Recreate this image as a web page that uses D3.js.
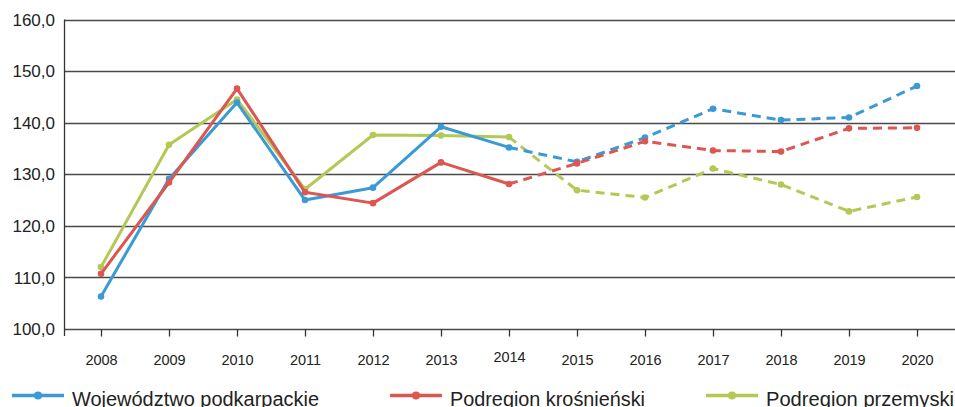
<!DOCTYPE html>
<html>
<head>
<meta charset="utf-8">
<script src="https://cdn.jsdelivr.net/npm/d3@7"></script>
<style>
  html, body { margin: 0; padding: 0; background: #fff; overflow: hidden; }
  svg { display: block; font-family: "Liberation Sans", Arial, sans-serif; }
</style>
</head>
<body>
<div class="plot"></div>
<script>
"use strict";

// values
const years = [2008, 2009, 2010, 2011, 2012, 2013, 2014, 2015, 2016, 2017, 2018, 2019, 2020];
const podkarpackie = [106.3, 129.1, 143.9, 125.0, 127.4, 139.2, 135.2, 132.4, 137.1, 142.7, 140.5, 141.0, 147.1];
const krosnienski = [110.7, 128.4, 146.6, 126.5, 124.4, 132.3, 128.1, 132.1, 136.4, 134.6, 134.4, 138.9, 139.0];
const przemyski = [112.0, 135.7, 144.5, 127.1, 137.6, 137.5, 137.2, 126.9, 125.5, 131.1, 128.0, 122.8, 125.6];
const yTicks = [100, 110, 120, 130, 140, 150, 160];
const seriesNames = ["Województwo podkarpackie", "Podregion krośnieński", "Podregion przemyski"];
const forecastYear = 2014; // dashed from here on

const colors = ["#3a9ad6", "#dc5652", "#b4c855"];

var width = 955, height = 407;
var margin = { top: 19.5, right: 0, bottom: 78, left: 64.5 };

var svg = d3.select(".plot")
    .append("svg")
    .attr("width", width)
    .attr("height", height);

var x = d3.scalePoint()
    .domain(years)
    .range([101, 917]);

var y = d3.scaleLinear()
    .domain([100, 160])
    .range([329, margin.top]);

const fmt = d => d3.format(".1f")(d).replace(".", ",");

// horizontal grid lines
svg.append("g")
    .selectAll("line")
    .data(yTicks)
    .enter()
    .append("line")
    .attr("x1", margin.left)
    .attr("x2", width)
    .attr("y1", d => Math.round(y(d)) + 0.5)
    .attr("y2", d => Math.round(y(d)) + 0.5)
    .attr("stroke", "#4a4a4a")
    .attr("stroke-width", 1.5);

// y labels
svg.append("g")
    .selectAll("text")
    .data(yTicks)
    .enter()
    .append("text")
    .attr("x", 55)
    .attr("y", d => y(d))
    .attr("dy", "0.36em")
    .attr("text-anchor", "end")
    .attr("font-size", 17)
    .attr("fill", "#222")
    .text(fmt);

// left axis line
svg.append("line")
    .attr("x1", margin.left).attr("x2", margin.left)
    .attr("y1", margin.top).attr("y2", 336)
    .attr("stroke", "#333")
    .attr("stroke-width", 1.3);

// x axis ticks and labels
var xAxis = d3.axisBottom(x).tickSize(7).tickSizeOuter(0);
var gx = svg.append("g")
    .attr("transform", "translate(0,329.5)")
    .call(xAxis);
gx.select(".domain").remove();
gx.selectAll(".tick line").attr("stroke", "#333").attr("stroke-width", 1.3);
gx.selectAll(".tick text")
    .attr("y", d => d === 2014 ? 22 : 25)
    .attr("font-size", 14.5)
    .attr("font-family", "Liberation Sans, Arial, sans-serif")
    .attr("fill", "#222");

// series lines
var allSeries = [podkarpackie, krosnienski, przemyski];
var drawOrder = [2, 0, 1];
var line = d3.line()
    .x(d => x(d.year))
    .y(d => y(d.value));

drawOrder.forEach(si => {
    var pts = years.map((yr, i) => ({ year: yr, value: allSeries[si][i] }));
    var solid = pts.filter(p => p.year <= forecastYear);
    var dashed = pts.filter(p => p.year >= forecastYear);
    var g = svg.append("g");
    g.append("path")
        .datum(solid)
        .attr("d", line)
        .attr("fill", "none")
        .attr("stroke", colors[si])
        .attr("stroke-width", 3)
        .attr("stroke-linejoin", "round");
    g.append("path")
        .datum(dashed)
        .attr("d", line)
        .attr("fill", "none")
        .attr("stroke", colors[si])
        .attr("stroke-width", 3)
        .attr("stroke-dasharray", "9,6");
    g.selectAll("circle")
        .data(pts)
        .enter()
        .append("circle")
        .attr("cx", d => x(d.year))
        .attr("cy", d => y(d.value))
        .attr("r", 3.3)
        .attr("fill", colors[si]);
});

// legend (bottom of it is cut by the frame, as in the source picture)
var legendX = [12, 390, 706];
var legendW = [247, 195, 188];
var legend = svg.append("g");
seriesNames.forEach((name, i) => {
    var lg = legend.append("g").attr("transform", "translate(" + legendX[i] + ",395.5)");
    lg.append("line")
        .attr("x1", 0).attr("x2", 52)
        .attr("stroke", colors[i])
        .attr("stroke-width", 3.5);
    lg.append("circle")
        .attr("cx", 26).attr("r", 4)
        .attr("fill", colors[i]);
    lg.append("text")
        .attr("x", 60)
        .attr("y", 10)
        .attr("font-size", 19.5)
        .attr("fill", "#222")
        .attr("textLength", legendW[i])
        .attr("lengthAdjust", "spacingAndGlyphs")
        .text(name);
});
</script>
</body>
</html>
